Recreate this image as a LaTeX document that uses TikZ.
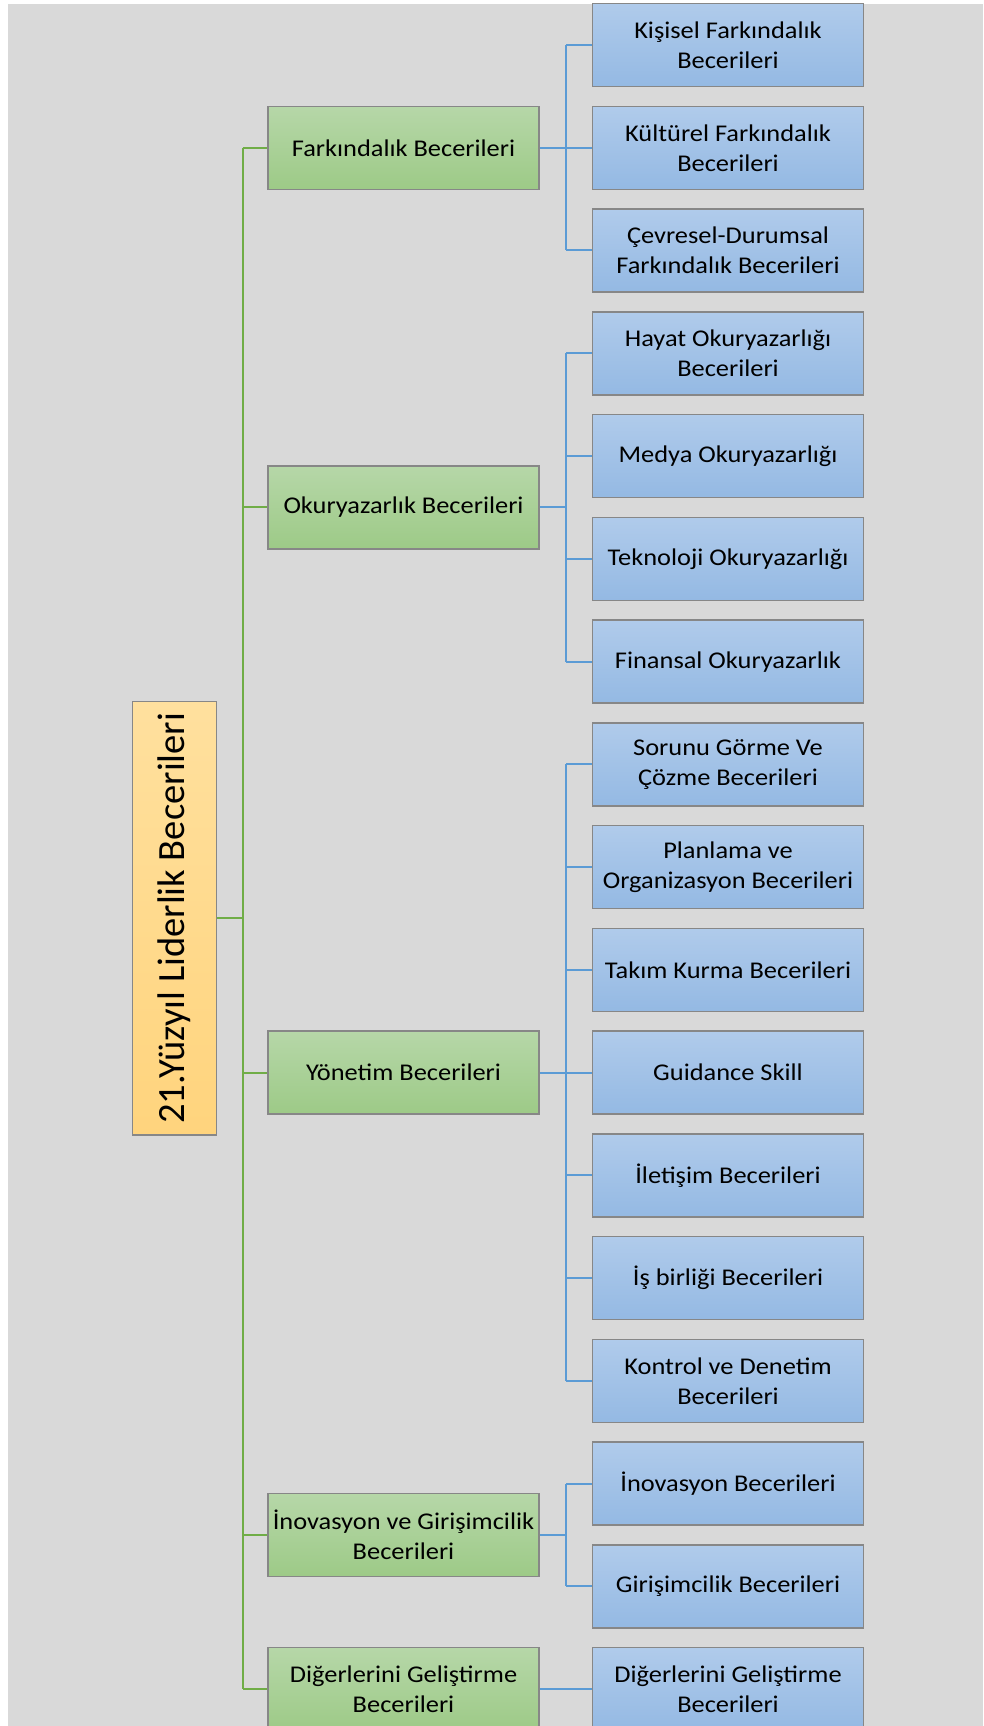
\documentclass[tikz,border=0pt]{standalone}
\usepackage{fontspec}
\usepackage{graphicx}
\setmainfont{Carlito}[FakeStretch=1.1]
\newfontfamily\rootfont{Carlito}
\definecolor{bgc}{RGB}{217,217,217}
\definecolor{frame}{RGB}{135,135,135}
\definecolor{gline}{RGB}{112,173,71}
\definecolor{bline}{RGB}{91,155,213}
\definecolor{bluetop}{RGB}{176,203,235}
\definecolor{bluebot}{RGB}{148,185,227}
\definecolor{greentop}{RGB}{182,215,168}
\definecolor{greenbot}{RGB}{157,202,135}
\definecolor{roottop}{RGB}{255,224,158}
\definecolor{rootbot}{RGB}{255,212,125}
\tikzset{
  box/.style={draw=frame, line width=1.1pt, rectangle, inner sep=0pt,
    align=center, text=black, font=\fontsize{18}{22.5}\selectfont},
  leaf/.style={box, top color=bluetop, bottom color=bluebot,
    minimum width=203pt, minimum height=62.25pt},
  cat/.style={box, top color=greentop, bottom color=greenbot,
    minimum width=203pt, minimum height=62.25pt},
  rootbox/.style={box, top color=roottop, bottom color=rootbot,
    minimum width=63.2pt, minimum height=325pt},
  glink/.style={draw=gline, line width=1.5pt},
  blink/.style={draw=bline, line width=1.5pt},
}
\begin{document}
\begin{tikzpicture}[x=0.75pt, y=-0.75pt]
\useasboundingbox (0,0) rectangle (983,1726);
\begin{scope}
\clip (0,0) rectangle (983,1726);
\fill[bgc] (8,4) rectangle (983,1726);

% root
\node[rootbox] (root) at (174.4,918.3)
  {\rotatebox{90}{\rootfont\fontsize{28.9}{34}\selectfont 21.Yüzyıl Liderlik Becerileri}};

% second level
\node[cat] (fark) at (403.5,147.8) {Farkındalık Becerileri};
\node[cat] (okur) at (403.5,507.4) {Okuryazarlık Becerileri};
\node[cat] (yon)  at (403.5,1072.6) {Yönetim Becerileri};
\node[cat] (inov) at (403.5,1535.0) {İnovasyon ve Girişimcilik\\Becerileri};
\node[cat] (dig)  at (403.5,1689.2) {Diğerlerini Geliştirme\\Becerileri};

% third level
\node[leaf] (l0)  at (728,45.0)   {Kişisel Farkındalık\\Becerileri};
\node[leaf] (l1)  at (728,147.8)  {Kültürel Farkındalık\\Becerileri};
\node[leaf] (l2)  at (728,250.5)  {Çevresel-Durumsal\\Farkındalık Becerileri};
\node[leaf] (l3)  at (728,353.3)  {Hayat Okuryazarlığı\\Becerileri};
\node[leaf] (l4)  at (728,456.0)  {Medya Okuryazarlığı};
\node[leaf] (l5)  at (728,558.8)  {Teknoloji Okuryazarlığı};
\node[leaf] (l6)  at (728,661.6)  {Finansal Okuryazarlık};
\node[leaf] (l7)  at (728,764.3)  {Sorunu Görme Ve\\Çözme Becerileri};
\node[leaf] (l8)  at (728,867.1)  {Planlama ve\\Organizasyon Becerileri};
\node[leaf] (l9)  at (728,969.8)  {Takım Kurma Becerileri};
\node[leaf] (l10) at (728,1072.6) {Guidance Skill};
\node[leaf] (l11) at (728,1175.4) {İletişim Becerileri};
\node[leaf] (l12) at (728,1278.1) {İş birliği Becerileri};
\node[leaf] (l13) at (728,1380.9) {Kontrol ve Denetim\\Becerileri};
\node[leaf] (l14) at (728,1483.6) {İnovasyon Becerileri};
\node[leaf] (l15) at (728,1586.4) {Girişimcilik Becerileri};
\node[leaf] (l16) at (728,1689.2) {Diğerlerini Geliştirme\\Becerileri};

% trunk and branch columns
\coordinate (tk) at (242.5,0);
\coordinate (bx) at (566,0);

% root to categories
\draw[glink] (root.east) -- (tk |- root.east);
\draw[glink] (tk |- fark.west) -- (tk |- dig.west);
\foreach \c in {fark,okur,yon,inov,dig}
  \draw[glink] (tk |- \c.west) -- (\c.west);

% categories to leaves
\foreach \c/\a/\b in {fark/l0/l2, okur/l3/l6, yon/l7/l13, inov/l14/l15} {
  \draw[blink] (\c.east) -- (bx |- \c.east);
  \draw[blink] (bx |- \a.west) -- (bx |- \b.west);
}
\foreach \c/\l in {fark/l0, fark/l1, fark/l2, okur/l3, okur/l4, okur/l5, okur/l6,
  yon/l7, yon/l8, yon/l9, yon/l10, yon/l11, yon/l12, yon/l13, inov/l14, inov/l15}
  \draw[blink] (bx |- \l.west) -- (\l.west);
\draw[blink] (dig.east) -- (l16.west);
\end{scope}
\end{tikzpicture}
\end{document}
